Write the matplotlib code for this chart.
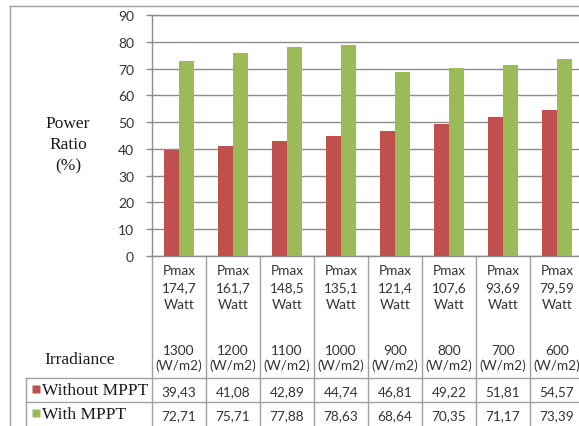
import numpy as np
import matplotlib.pyplot as plt
import matplotlib.transforms as mtransforms

# power ratio (%) per irradiance level
irradiance = [1300, 1200, 1100, 1000, 900, 800, 700, 600]
pmax = ["174,7", "161,7", "148,5", "135,1", "121,4", "107,6", "93,69", "79,59"]
without_mppt = [39.43, 41.08, 42.89, 44.74, 46.81, 49.22, 51.81, 54.57]
with_mppt = [72.71, 75.71, 77.88, 78.63, 68.64, 70.35, 71.17, 73.39]

RED = '#C0504D'
GREEN = '#9BBB59'
GRID = '#8c8c8c'
SERIF = 'Liberation Serif'
SANS = 'Lato'
TXT = '#333333'

W, H = 579, 427


def fmt(v):
    return f"{v:.2f}".replace('.', ',')


fig = plt.figure(figsize=(W / 100, H / 100), dpi=100)

# bar chart area
ax = fig.add_axes([152 / W, (H - 257) / H, 432 / W, (257 - 16) / H])
x = np.arange(len(irradiance))
bw = 15 / 54
ax.bar(x - bw / 2, without_mppt, bw, color=RED, zorder=3)
ax.bar(x + bw / 2, with_mppt, bw, color=GREEN, zorder=3)
ax.set_xlim(-0.5, len(irradiance) - 0.5)
ax.set_ylim(0, 90)
ax.set_yticks(range(0, 91, 10))
ax.set_xticks([])
ax.yaxis.grid(True, color=GRID, lw=1)
ax.set_axisbelow(True)
for s in ax.spines.values():
    s.set_color(GRID)
    s.set_linewidth(1)
ax.tick_params(axis='y', length=4, width=1, color=GRID, pad=9,
               labelsize=10, labelcolor=TXT)
for lab in ax.get_yticklabels():
    lab.set_fontfamily(SANS)

# overlay in pixel coordinates for the data table and labels
tab = fig.add_axes([0, 0, 1, 1], zorder=-1)
tab.set_xlim(0, W)
tab.set_ylim(H, 0)
tab.axis('off')
cat = mtransforms.blended_transform_factory(ax.transData, tab.transData)

line_kw = dict(color='#a0a0a0', lw=1, clip_on=False)
# outer frame
tab.plot([10, 10], [7, H], **line_kw)
tab.plot([10, W], [7, 7], **line_kw)
# table grid
for i in range(len(irradiance) + 1):
    tab.plot([i - 0.5, i - 0.5], [257, H], transform=cat, **line_kw)
for y in (379, 403):
    tab.plot([26, W], [y, y], **line_kw)
tab.plot([26, 26], [379, H], **line_kw)

# category headers and values
cell_kw = dict(transform=cat, ha='center', va='center', family=SANS,
               fontsize=9.8, color=TXT)
for i in range(len(irradiance)):
    tab.text(i, 271, "Pmax", **cell_kw)
    tab.text(i, 288, pmax[i], **cell_kw)
    tab.text(i, 305, "Watt", **cell_kw)
    tab.text(i, 351, str(irradiance[i]), **cell_kw)
    tab.text(i, 366, "(W/m2)", **cell_kw)
    tab.text(i, 392, fmt(without_mppt[i]), **cell_kw)
    tab.text(i, 416, fmt(with_mppt[i]), **cell_kw)

# row labels
label_kw = dict(family=SERIF, fontsize=12.5, color='#1a1a1a')
tab.text(80, 360, "Irradiance", ha='center', va='center', **label_kw)
tab.plot(36, 390, marker='s', ms=5.5, color=RED, mec='none')
tab.text(42, 391, "Without MPPT", ha='left', va='center', **label_kw)
tab.plot(36, 414, marker='s', ms=5.5, color=GREEN, mec='none')
tab.text(42, 415, "With MPPT", ha='left', va='center', **label_kw)

# y-axis title
tab.text(68, 145, "Power\nRatio\n(%)", ha='center', va='center',
         linespacing=1.45, **label_kw)

fig.savefig('out.png', dpi=100)
